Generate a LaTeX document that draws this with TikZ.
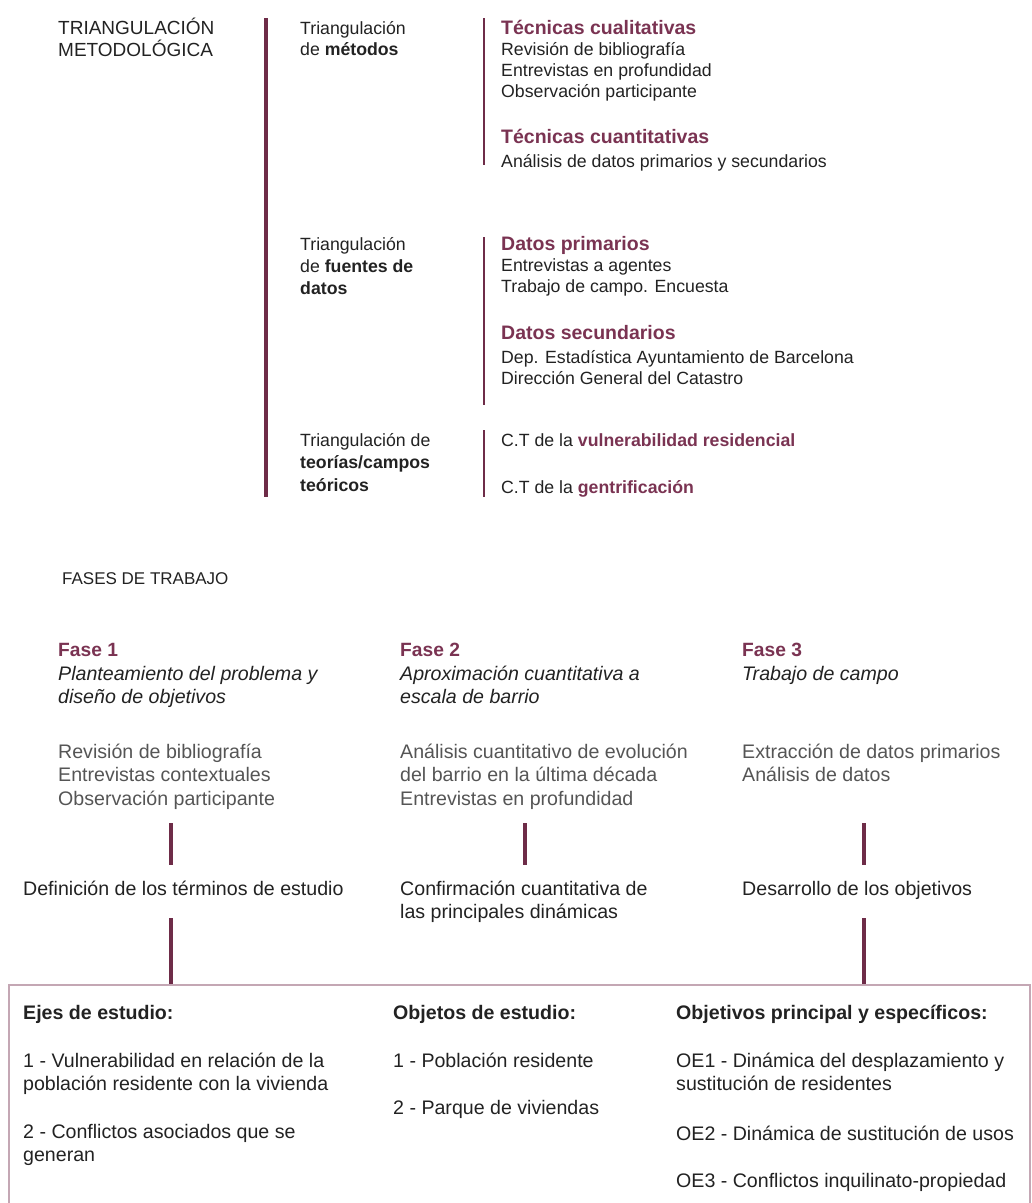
\documentclass[tikz,border=0pt]{standalone}
\usepackage{fontspec}
\setmainfont{Liberation Sans}
\definecolor{mauve}{HTML}{6E2C48}
\definecolor{headc}{HTML}{7A3352}
\definecolor{boxc}{HTML}{C4A7B4}
\definecolor{dark}{HTML}{222222}
\definecolor{grayt}{HTML}{555555}
\tikzset{
  tt/.style={anchor=base west, inner sep=0pt, text=dark, font=\fontsize{17.7}{21}\selectfont},
  th/.style={anchor=base west, inner sep=0pt, text=headc, font=\fontsize{19.5}{21}\selectfont\bfseries},
  fh/.style={anchor=base west, inner sep=0pt, text=headc, font=\fontsize{19.2}{23}\selectfont\bfseries},
  fi/.style={anchor=base west, inner sep=0pt, text=dark, font=\fontsize{19.6}{23}\selectfont\itshape},
  fg/.style={anchor=base west, inner sep=0pt, text=grayt, font=\fontsize{19.6}{23}\selectfont},
  fd/.style={anchor=base west, inner sep=0pt, text=dark, font=\fontsize{19.6}{23}\selectfont},
  bb/.style={anchor=base west, inner sep=0pt, text=dark, font=\fontsize{19.6}{23}\selectfont\bfseries},
  mainbar/.style={draw=mauve, line width=4pt},
  smallbar/.style={draw=mauve, line width=2.2pt},
  fasebar/.style={draw=mauve, line width=3.6pt},
  boxline/.style={draw=boxc, line width=2pt}
}
\begin{document}
\begin{tikzpicture}[x=1pt,y=-1pt]
\useasboundingbox (0,0) rectangle (1032,1203);
% ---------- top section ----------
\node[tt, font=\fontsize{19}{21}\selectfont] (tm1) at (58,34) {TRIANGULACIÓN};
\node[tt, font=\fontsize{19}{21}\selectfont] (tm2) at (58,56) {METODOLÓGICA};
\coordinate (mbT) at (266,18);
\coordinate (mbB) at (266,497);
\draw[mainbar] (mbT) -- (mbB);

\node[tt] (g1a) at (300,34) {Triangulación};
\node[tt] (g1b) at (300,55) {de \textbf{métodos}};
\coordinate (b1T) at (484,18);
\coordinate (b1B) at (484,165);
\draw[smallbar] (b1T) -- (b1B);
\node[th] (q1) at (501,34) {Técnicas cualitativas};
\node[tt] (q2) at (501,55) {Revisión de bibliografía};
\node[tt] (q3) at (501,76) {Entrevistas en profundidad};
\node[tt] (q4) at (501,97) {Observación participante};
\node[th] (c1) at (501,143) {Técnicas cuantitativas};
\node[tt] (c2) at (501,167) {Análisis de datos primarios y secundarios};

\node[tt] (g2a) at (300,250) {Triangulación};
\node[tt] (g2b) at (300,272) {de \textbf{fuentes de}};
\node[tt] (g2c) at (300,294) {\textbf{datos}};
\coordinate (b2T) at (484,237);
\coordinate (b2B) at (484,405);
\draw[smallbar] (b2T) -- (b2B);
\node[th] (p1) at (501,250) {Datos primarios};
\node[tt] (p2) at (501,271) {Entrevistas a agentes};
\node[tt] (p3) at (501,292) {Trabajo de campo. Encuesta};
\node[th] (s1) at (501,339) {Datos secundarios};
\node[tt] (s2) at (501,363) {Dep. Estadística Ayuntamiento de Barcelona};
\node[tt] (s3) at (501,384) {Dirección General del Catastro};

\node[tt] (g3a) at (300,446) {Triangulación de};
\node[tt] (g3b) at (300,468) {\textbf{teorías/campos}};
\node[tt] (g3c) at (300,491) {\textbf{teóricos}};
\coordinate (b3T) at (484,430);
\coordinate (b3B) at (484,497);
\draw[smallbar] (b3T) -- (b3B);
\node[tt] (ct1) at (501,446) {C.T de la \textcolor{headc}{\textbf{vulnerabilidad residencial}}};
\node[tt] (ct2) at (501,493) {C.T de la \textcolor{headc}{\textbf{gentrificación}}};

% ---------- fases ----------
\node[tt, font=\fontsize{17}{21}\selectfont] (fases) at (62,584) {FASES DE TRABAJO};

\node[fh] (f1) at (58,656) {Fase 1};
\node[fi] (f1a) at (58,680) {Planteamiento del problema y};
\node[fi] (f1b) at (58,703) {diseño de objetivos};
\node[fg] (f1c) at (58,758) {Revisión de bibliografía};
\node[fg] (f1d) at (58,781) {Entrevistas contextuales};
\node[fg] (f1e) at (58,805) {Observación participante};
\node[fd] (r1) at (23,895) {Definición de los términos de estudio};

\node[fh] (f2) at (400,656) {Fase 2};
\node[fi] (f2a) at (400,680) {Aproximación cuantitativa a};
\node[fi] (f2b) at (400,703) {escala de barrio};
\node[fg] (f2c) at (400,758) {Análisis cuantitativo de evolución};
\node[fg] (f2d) at (400,781) {del barrio en la última década};
\node[fg] (f2e) at (400,805) {Entrevistas en profundidad};
\node[fd] (r2a) at (400,895) {Confirmación cuantitativa de};
\node[fd] (r2b) at (400,918) {las principales dinámicas};

\node[fh] (f3) at (742,656) {Fase 3};
\node[fi] (f3a) at (742,680) {Trabajo de campo};
\node[fg] (f3c) at (742,758) {Extracción de datos primarios};
\node[fg] (f3d) at (742,781) {Análisis de datos};
\node[fd] (r3) at (742,895) {Desarrollo de los objetivos};

\coordinate (u1T) at (171,823); \coordinate (u1B) at (171,865);
\coordinate (u2T) at (525,823); \coordinate (u2B) at (525,865);
\coordinate (u3T) at (864,823); \coordinate (u3B) at (864,865);
\draw[fasebar] (u1T) -- (u1B);
\draw[fasebar] (u2T) -- (u2B);
\draw[fasebar] (u3T) -- (u3B);

% ---------- box ----------
\coordinate (bxBL) at (9,1215);
\coordinate (bxTL) at (9,985);
\coordinate (bxTR) at (1030,985);
\coordinate (bxBR) at (1030,1215);
\coordinate (d1T) at (171,918); \coordinate (d1B) at (171,985);
\coordinate (d3T) at (864,918); \coordinate (d3B) at (864,985);
\draw[fasebar] (d1T) -- (d1B);
\draw[fasebar] (d3T) -- (d3B);
\draw[boxline] (bxBL) -- (bxTL) -- (bxTR) -- (bxBR);

\node[bb] (e0) at (23,1019) {Ejes de estudio:};
\node[fd] (e1) at (23,1067) {1 - Vulnerabilidad en relación de la};
\node[fd] (e2) at (23,1090) {población residente con la vivienda};
\node[fd] (e3) at (23,1138) {2 - Conflictos asociados que se};
\node[fd] (e4) at (23,1161) {generan};

\node[bb] (o0) at (393,1019) {Objetos de estudio:};
\node[fd] (o1) at (393,1067) {1 - Población residente};
\node[fd] (o2) at (393,1114) {2 - Parque de viviendas};

\node[bb] (j0) at (676,1019) {Objetivos principal y específicos:};
\node[fd] (j1) at (676,1067) {OE1 - Dinámica del desplazamiento y};
\node[fd] (j2) at (676,1090) {sustitución de residentes};
\node[fd] (j3) at (676,1140) {OE2 - Dinámica de sustitución de usos};
\node[fd] (j4) at (676,1187) {OE3 - Conflictos inquilinato-propiedad};
\end{tikzpicture}
\end{document}
